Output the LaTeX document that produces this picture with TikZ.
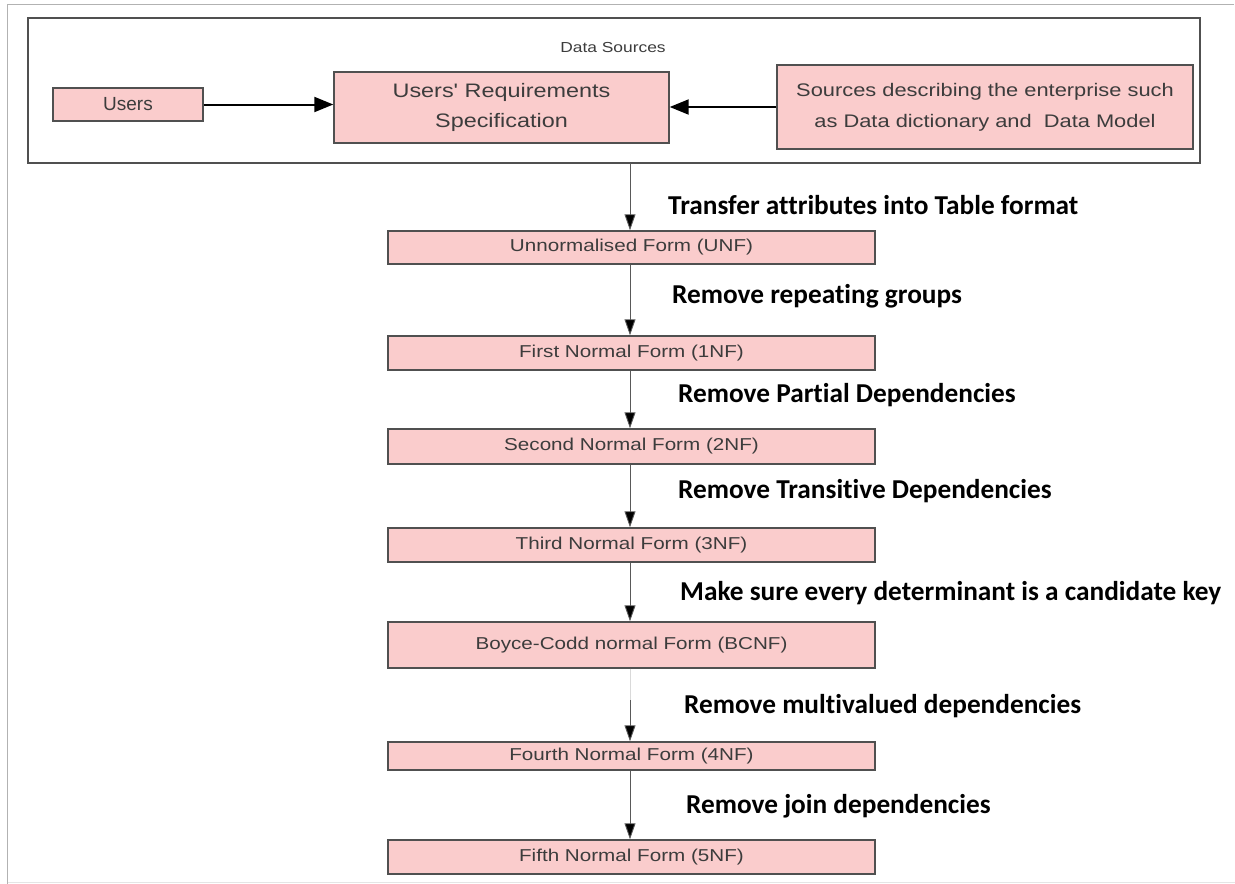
\documentclass[tikz,border=0pt]{standalone}
\usepackage{fontspec}
\usetikzlibrary{arrows.meta}
\newfontfamily\boxfont[FakeStretch=1.2]{Liberation Sans}
\newfontfamily\plainfont{Liberation Sans}
\newfontfamily\labfont[FakeStretch=1.0,Ligatures=NoCommon]{Carlito}
\definecolor{boxfill}{RGB}{250,204,204}
\definecolor{boxline}{RGB}{80,80,80}
\definecolor{boxtext}{RGB}{60,60,60}
\begin{document}
\begin{tikzpicture}[x=1pt,y=-1pt,
  stage/.style={draw=boxline, line width=1.4pt, fill=boxfill, rectangle,
    inner sep=0pt, text=boxtext, font=\boxfont\fontsize{16}{19}\selectfont, align=center},
  form/.style={stage, minimum width=487pt, font=\boxfont\fontsize{17.2}{21}\selectfont},
  lab/.style={anchor=west, font=\labfont\bfseries\fontsize{27.3}{31}\selectfont, inner sep=0pt},
  flow/.style={draw=black!65, line width=0.9pt, -{Triangle[width=11pt,length=16pt,fill=black]}},
  feed/.style={draw=black, line width=2pt, -{Triangle[width=15pt,length=19pt]}}
]
\useasboundingbox (0,0) rectangle (1235,884);
% page frame
\draw[black!30, line width=1.5pt] (1234,4.5) -- (7.5,4.5) -- (7.5,884);
\draw[black!10, line width=1pt] (7.5,882) -- (1235,882);

% data sources group
\node[draw=boxline, line width=2pt, rectangle, minimum width=1172pt, minimum height=145pt,
  inner sep=0pt] (grp) at (614,90.5) {};
\node[font=\boxfont\fontsize{14.5}{17}\selectfont, text=boxtext] (grptitle) at (613,48) {Data Sources};

\node[stage, minimum width=150pt, minimum height=33pt,
  font=\plainfont\fontsize{19}{22}\selectfont] (users) at (128,104.5) {Users};
\node[stage, minimum width=335pt, minimum height=71pt,
  font=\boxfont\fontsize{19.5}{30}\selectfont] (req) at (501.5,107.5)
  {Users' Requirements\\Specification};
\node[stage, minimum width=416pt, minimum height=84pt,
  font=\boxfont\fontsize{18.2}{31}\selectfont] (src) at (985,107)
  {Sources describing the enterprise such\\as Data dictionary and\ \ Data Model};

\draw[feed] (users.east) -- (users.east -| req.west);
\draw[feed] (src.west) -- (src.west -| req.east);

% normal forms
\node[form, minimum height=33pt] (unf) at (631.5,247.5) {Unnormalised Form (UNF)};
\node[form, minimum height=34pt] (nf1) at (631.5,353) {First Normal Form (1NF)};
\node[form, minimum height=35pt] (nf2) at (631.5,446.5) {Second Normal Form (2NF)};
\node[form, minimum height=34pt] (nf3) at (631.5,545) {Third Normal Form (3NF)};
\node[form, minimum height=46pt] (bcnf) at (631.5,645) {Boyce-Codd normal Form (BCNF)};
\node[form, minimum height=28pt] (nf4) at (631.5,756) {Fourth Normal Form (4NF)};
\node[form, minimum height=34pt] (nf5) at (631.5,857) {Fifth Normal Form (5NF)};

\coordinate (grpout) at (630,163);
\coordinate (fade) at (630,700);
\draw[flow] (grpout) -- (grpout |- unf.north);
\draw[flow] (unf.south -| grpout) -- (grpout |- nf1.north);
\draw[flow] (nf1.south -| grpout) -- (grpout |- nf2.north);
\draw[flow] (nf2.south -| grpout) -- (grpout |- nf3.north);
\draw[flow] (nf3.south -| grpout) -- (grpout |- bcnf.north);
\draw[black!15, line width=0.9pt] (bcnf.south -| grpout) -- (fade);
\draw[flow] (fade) -- (grpout |- nf4.north);
\draw[flow] (nf4.south -| grpout) -- (grpout |- nf5.north);

% transformation steps
\node[lab] (t0) at (668,205) {Transfer attributes into Table format};
\node[lab] (t1) at (672,296) {Remove repeating groups};
\node[lab] (t2) at (678,395) {Remove Partial Dependencies};
\node[lab] (t3) at (678,491) {Remove Transitive Dependencies};
\node[lab] (t4) at (680,593) {Make sure every determinant is a candidate key};
\node[lab] (t5) at (684,706) {Remove multivalued dependencies};
\node[lab] (t6) at (686,806) {Remove join dependencies};
\end{tikzpicture}
\end{document}
